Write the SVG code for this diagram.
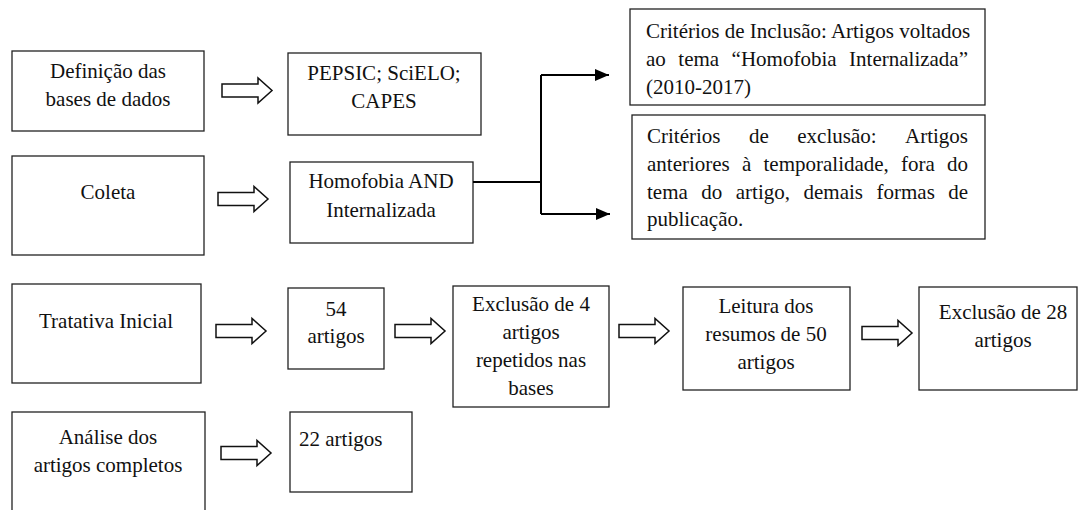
<svg xmlns="http://www.w3.org/2000/svg" width="1078" height="510" viewBox="0 0 1078 510">
<style>
.box{fill:#fff;stroke:#222;stroke-width:1.3}
.t{font-family:"Liberation Serif","Times New Roman",serif;font-size:21px;fill:#111}
.c{text-anchor:middle}
.ba{fill:#fff;stroke:#111;stroke-width:1.5;stroke-linejoin:miter}
.ln{fill:none;stroke:#000;stroke-width:2}
</style>
<defs>
<path id="blk" d="M0,-6.5 H36 V-12.5 L50,0 L36,12.5 V6.5 H0 Z"/>
<marker id="ah" markerWidth="14" markerHeight="12" refX="14" refY="6" orient="auto" markerUnits="userSpaceOnUse">
<path d="M0,0 L14,6 L0,12 Z" fill="#000"/>
</marker>
</defs>
<rect width="1078" height="510" fill="#fff"/>

<g id="n-definicao"><rect class="box" x="12" y="51" width="192" height="80"/>
<text class="t c" x="108" y="78">Definição das</text><text class="t c" x="108" y="106">bases de dados</text></g>
<g id="n-pepsic"><rect class="box" x="288" y="53" width="193" height="82"/>
<text class="t c" x="384" y="80">PEPSIC; SciELO;</text><text class="t c" x="384" y="108">CAPES</text></g>
<g id="n-coleta"><rect class="box" x="12" y="156" width="192" height="99"/>
<text class="t c" x="108" y="199">Coleta</text></g>
<g id="n-homofobia"><rect class="box" x="290" y="162" width="183" height="81"/>
<text class="t c" x="381" y="188">Homofobia AND</text><text class="t c" x="381" y="217">Internalizada</text></g>
<g id="n-inclusao"><rect class="box" x="630" y="9" width="355" height="96"/>
<text class="t" x="646" y="38">Critérios de Inclusão: Artigos voltados</text>
<text class="t" y="66"><tspan x="646">ao</tspan><tspan x="678.3">tema</tspan><tspan x="731.6">“Homofobia</tspan><tspan x="968" text-anchor="end">Internalizada”</tspan></text>
<text class="t" x="646" y="94">(2010-2017)</text></g>
<g id="n-exclusao"><rect class="box" x="632" y="115" width="353" height="124"/>
<text class="t" y="143"><tspan x="647">Critérios</tspan><tspan x="749">de</tspan><tspan x="797.3">exclusão:</tspan><tspan x="968" text-anchor="end">Artigos</tspan></text>
<text class="t" y="171"><tspan x="647">anteriores</tspan><tspan x="742">à</tspan><tspan x="763.5">temporalidade,</tspan><tspan x="901.1">fora</tspan><tspan x="968" text-anchor="end">do</tspan></text>
<text class="t" y="199"><tspan x="647">tema</tspan><tspan x="701.3">do</tspan><tspan x="735.8">artigo,</tspan><tspan x="803.5">demais</tspan><tspan x="876.5">formas</tspan><tspan x="968" text-anchor="end">de</tspan></text>
<text class="t" x="647" y="226">publicação.</text></g>

<g id="n-tratativa"><rect class="box" x="12" y="284" width="189" height="99"/>
<text class="t c" x="106" y="328">Tratativa Inicial</text></g>
<g id="n-54"><rect class="box" x="288" y="288" width="96" height="81"/>
<text class="t c" x="336" y="316">54</text><text class="t c" x="336" y="343">artigos</text></g>
<g id="n-excl4"><rect class="box" x="453" y="286" width="156" height="121"/>
<text class="t c" x="531" y="311">Exclusão de 4</text><text class="t c" x="531" y="339">artigos</text><text class="t c" x="531" y="367">repetidos nas</text><text class="t c" x="531" y="395">bases</text></g>
<g id="n-leitura"><rect class="box" x="683" y="287" width="167" height="103"/>
<text class="t c" x="766" y="313">Leitura dos</text><text class="t c" x="766" y="341">resumos de 50</text><text class="t c" x="766" y="369">artigos</text></g>
<g id="n-excl28"><rect class="box" x="919" y="287" width="158" height="103"/>
<text class="t c" x="1003" y="319">Exclusão de 28</text><text class="t c" x="1003" y="347">artigos</text></g>
<g id="n-analise"><rect class="box" x="12" y="412" width="193" height="110"/>
<text class="t c" x="108" y="444">Análise dos</text><text class="t c" x="108" y="472">artigos completos</text></g>
<g id="n-22"><rect class="box" x="290" y="412" width="122" height="80"/>
<text class="t" x="299" y="446">22 artigos</text></g>

<g id="connectors">
<use href="#blk" class="ba" x="222" y="90.5"/>
<use href="#blk" class="ba" x="218" y="199"/>
<use href="#blk" class="ba" x="216" y="331"/>
<use href="#blk" class="ba" x="395" y="331"/>
<use href="#blk" class="ba" x="619" y="331"/>
<use href="#blk" class="ba" x="862" y="333"/>
<use href="#blk" class="ba" x="221" y="453"/>
<path class="ln" d="M473,182 H541"/>
<path class="ln" d="M541,75 V214"/>
<path class="ln" d="M541,75 H609" marker-end="url(#ah)"/>
<path class="ln" d="M541,214 H610" marker-end="url(#ah)"/>
</g>
</svg>
